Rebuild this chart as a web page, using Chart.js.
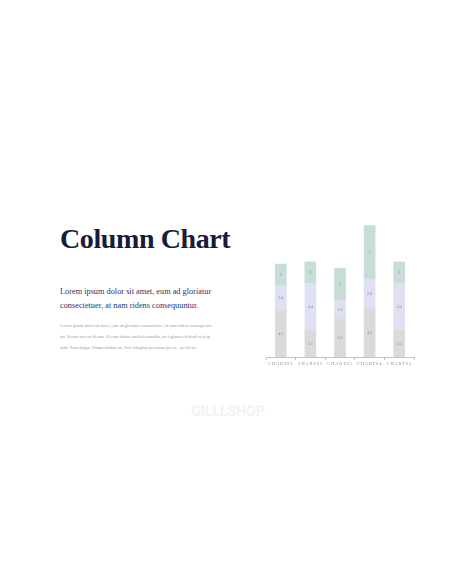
<!DOCTYPE html>
<html>
<head>
<meta charset="utf-8">
<script src="https://cdn.jsdelivr.net/npm/chart.js@4.4.0/dist/chart.umd.min.js"></script>
<style>
  html, body { margin:0; padding:0; background:#fff; width:456px; height:586px; overflow:hidden; }
  .abs { position:absolute; white-space:nowrap; }
  #title { left:60px; top:223px; font-family:"Liberation Serif", serif; font-weight:bold; font-size:28px; color:#191b38; letter-spacing:-0.4px; line-height:32px; }
  .sub { left:60px; font-family:"Liberation Serif", serif; font-size:8.3px; color:#2f3263; line-height:10px; }
  .body { left:60px; font-family:"Liberation Serif", serif; font-size:4.4px; color:#9a9a9a; line-height:6px; }
  #wm { left:0; width:456px; top:403px; text-align:center; font-family:Roboto, sans-serif; font-weight:bold; font-size:14px; color:#f3f3f3; }
  #box { position:absolute; left:262px; top:200px; width:156px; height:170px; }
</style>
</head>
<body>
<div id="title" class="abs">Column Chart</div>
<div class="abs sub" style="top:287px">Lorem ipsum dolor sit amet, eum ad gloriatur</div>
<div class="abs sub" style="top:301px">consectetuer, at nam ridens consequuntur.</div>
<div class="abs body" style="top:323px">Lorem ipsum dolor sit amet, eum ad gloriatur consectetuer, at nam ridens consequ unt.</div>
<div class="abs body" style="top:334px">tur. Solum vocent id sam. Ei eam dortus facilisis transdia, an legimus eleifend vela sp</div>
<div class="abs body" style="top:345px">acid. Nam singue Vitupertaribus an. Sed vidupitas petentum per ne, an lali no.</div>
<div id="wm" class="abs">GILLLSHOP</div>
<div id="box"><canvas id="c"></canvas></div>
<script>
const categories = ["CHART01", "CHART02", "CHART03", "CHART04", "CHART05"];
const series1 = [4.3, 2.5, 3.5, 4.5, 2.5];
const series2 = [2.4, 4.4, 1.8, 2.8, 4.4];
const series3 = [2, 2, 3, 5, 2];
const colors = ["#dadada", "#dfe0f1", "#c7ddd8"];

const labelPlugin = {
  id: 'segLabels',
  beforeDraw(chart) { chart.ctx.letterSpacing = '0.9px'; },
  afterDatasetsDraw(chart) {
    const ctx = chart.ctx;
    ctx.save();
    ctx.letterSpacing = '0px';
    ctx.font = '4px "Liberation Serif", serif';
    ctx.fillStyle = '#8a8a8a';
    ctx.textAlign = 'center';
    ctx.textBaseline = 'middle';
    chart.data.datasets.forEach((ds, i) => {
      chart.getDatasetMeta(i).data.forEach((bar, j) => {
        const y = (bar.y + bar.base) / 2;
        ctx.fillText(String(ds.data[j]), bar.x, y);
      });
    });
    ctx.restore();
  }
};

new Chart(document.getElementById('c'), {
  type: 'bar',
  data: {
    labels: categories,
    datasets: [
      { data: series1, backgroundColor: colors[0] },
      { data: series2, backgroundColor: colors[1] },
      { data: series3, backgroundColor: colors[2] }
    ]
  },
  options: {
    responsive: true,
    maintainAspectRatio: false,
    animation: false,
    layout: { padding: { left: 4, right: 4, top: 0, bottom: 0 } },
    plugins: { legend: { display: false }, tooltip: { enabled: false } },
    datasets: { bar: { barThickness: 11 } },
    scales: {
      x: {
        stacked: true,
        afterFit(scale) { scale.height = 13; },
        grid: { display: true, drawOnChartArea: false, offset: true, tickLength: 3, color: '#aaaaaa', lineWidth: 0.7 },
        border: { display: true, color: '#aaaaaa', width: 0.7 },
        ticks: { color: '#8c8c8c', padding: 1, font: { family: '"Liberation Serif", serif', size: 4.4 }, maxRotation: 0, autoSkip: false }
      },
      y: {
        stacked: true,
        display: false,
        min: 0,
        max: 14.7
      }
    }
  },
  plugins: [labelPlugin]
});
</script>
</body>
</html>
